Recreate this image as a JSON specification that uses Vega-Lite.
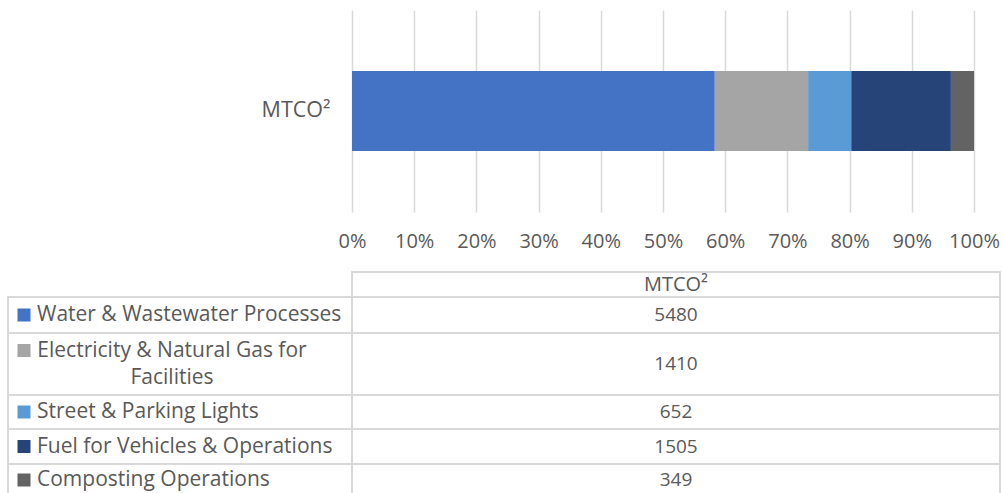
{
  "$schema": "https://vega.github.io/schema/vega-lite/v6.json",
  "padding": {"left": 7, "top": 10, "right": 0, "bottom": 0},
  "datasets": {
    "emissions": [
      {"source": "Water & Wastewater Processes", "mtco2": 5480},
      {"source": "Electricity & Natural Gas for\nFacilities", "mtco2": 1410},
      {"source": "Street & Parking Lights", "mtco2": 652},
      {"source": "Fuel for Vehicles & Operations", "mtco2": 1505},
      {"source": "Composting Operations", "mtco2": 349}
    ],
    "header": [{"measure": "MTCO²"}]
  },
  "columns": 2,
  "spacing": 0,
  "bounds": "flush",
  "align": "each",
  "concat": [
    {
      "width": 1, "height": 202, "view": {"stroke": null},
      "data": {"name": "header"},
      "mark": {"type": "text"},
      "encoding": {"text": {"value": ""}}
    },
    {
      "width": 622, "height": 202, "view": {"stroke": null},
      "data": {"name": "emissions"},
      "transform": [{"window": [{"op": "row_number", "as": "tableRow"}]}],
      "mark": {"type": "bar", "size": 80},
      "encoding": {
        "y": {
          "datum": "MTCO²", "type": "nominal",
          "axis": {"title": null, "ticks": false, "domain": false, "grid": false, "labelPadding": 22, "labelFontSize": 21.5}
        },
        "x": {
          "field": "mtco2", "type": "quantitative", "stack": "normalize",
          "scale": {"domain": [0, 1]},
          "axis": {
            "title": null, "format": ".0%", "values": [0, 0.1, 0.2, 0.3, 0.4, 0.5, 0.6, 0.7, 0.8, 0.9, 1],
            "ticks": false, "domain": false, "grid": true, "gridColor": "#d9d9d9", "gridWidth": 1.5,
            "labelPadding": 19, "labelFlush": false, "labelOverlap": false
          }
        },
        "order": {"field": "tableRow", "type": "quantitative", "sort": "ascending"},
        "color": {
          "field": "source", "type": "nominal", "legend": null,
          "scale": {
            "domain": ["Water & Wastewater Processes", "Electricity & Natural Gas for\nFacilities", "Street & Parking Lights", "Fuel for Vehicles & Operations", "Composting Operations"],
            "range": ["#4472c4", "#a5a5a5", "#5b9bd5", "#264478", "#636363"]
          }
        }
      }
    },
    {
      "width": 1, "height": 60, "view": {"stroke": null},
      "data": {"name": "header"},
      "mark": {"type": "text"},
      "encoding": {"text": {"value": ""}}
    },
    {
      "width": 1, "height": 60, "view": {"stroke": null},
      "data": {"name": "header"},
      "mark": {"type": "text"},
      "encoding": {"text": {"value": ""}}
    },
    {
      "width": 1, "height": 25, "view": {"stroke": null},
      "data": {"name": "header"},
      "mark": {"type": "text"},
      "encoding": {"text": {"value": ""}}
    },
    {
      "width": 648, "height": 25, "view": {"stroke": "#d9d9d9", "strokeWidth": 2},
      "data": {"name": "header"},
      "mark": {"type": "text", "fontSize": 20},
      "encoding": {"text": {"field": "measure", "type": "nominal"}}
    },

    {
      "width": 344, "height": 36, "view": {"stroke": "#d9d9d9", "strokeWidth": 2},
      "data": {"name": "emissions"},
      "transform": [{"filter": {"field": "source", "equal": "Water & Wastewater Processes"}}],
      "layer": [
        {
          "mark": {"type": "point", "shape": "square", "filled": true, "size": 169, "opacity": 1, "xOffset": -156},
          "encoding": {"color": {"field": "source", "type": "nominal", "legend": null,
            "scale": {"domain": ["Water & Wastewater Processes", "Electricity & Natural Gas for\nFacilities", "Street & Parking Lights", "Fuel for Vehicles & Operations", "Composting Operations"],
                      "range": ["#4472c4", "#a5a5a5", "#5b9bd5", "#264478", "#636363"]}}}
        },
        {"mark": {"type": "text", "align": "left", "dx": -143}, "encoding": {"text": {"field": "source", "type": "nominal"}}}
      ]
    },
    {
      "width": 648, "height": 36, "view": {"stroke": "#d9d9d9", "strokeWidth": 2},
      "data": {"name": "emissions"},
      "transform": [{"filter": {"field": "source", "equal": "Water & Wastewater Processes"}}],
      "mark": {"type": "text", "fontSize": 19},
      "encoding": {"text": {"field": "mtco2", "type": "quantitative", "format": "d"}}
    },

    {
      "width": 344, "height": 62, "view": {"stroke": "#d9d9d9", "strokeWidth": 2},
      "data": {"name": "emissions"},
      "transform": [{"filter": {"field": "source", "equal": "Electricity & Natural Gas for\nFacilities"}}],
      "layer": [
        {
          "mark": {"type": "point", "shape": "square", "filled": true, "size": 169, "opacity": 1, "xOffset": -156, "yOffset": -13.5},
          "encoding": {"color": {"field": "source", "type": "nominal", "legend": null,
            "scale": {"domain": ["Water & Wastewater Processes", "Electricity & Natural Gas for\nFacilities", "Street & Parking Lights", "Fuel for Vehicles & Operations", "Composting Operations"],
                      "range": ["#4472c4", "#a5a5a5", "#5b9bd5", "#264478", "#636363"]}}}
        },
        {"mark": {"type": "text", "align": "center", "dx": -8, "dy": -13.5}, "encoding": {"text": {"field": "source", "type": "nominal"}}}
      ]
    },
    {
      "width": 648, "height": 62, "view": {"stroke": "#d9d9d9", "strokeWidth": 2},
      "data": {"name": "emissions"},
      "transform": [{"filter": {"field": "source", "equal": "Electricity & Natural Gas for\nFacilities"}}],
      "mark": {"type": "text", "fontSize": 19},
      "encoding": {"text": {"field": "mtco2", "type": "quantitative", "format": "d"}}
    },

    {
      "width": 344, "height": 34, "view": {"stroke": "#d9d9d9", "strokeWidth": 2},
      "data": {"name": "emissions"},
      "transform": [{"filter": {"field": "source", "equal": "Street & Parking Lights"}}],
      "layer": [
        {
          "mark": {"type": "point", "shape": "square", "filled": true, "size": 169, "opacity": 1, "xOffset": -156},
          "encoding": {"color": {"field": "source", "type": "nominal", "legend": null,
            "scale": {"domain": ["Water & Wastewater Processes", "Electricity & Natural Gas for\nFacilities", "Street & Parking Lights", "Fuel for Vehicles & Operations", "Composting Operations"],
                      "range": ["#4472c4", "#a5a5a5", "#5b9bd5", "#264478", "#636363"]}}}
        },
        {"mark": {"type": "text", "align": "left", "dx": -143}, "encoding": {"text": {"field": "source", "type": "nominal"}}}
      ]
    },
    {
      "width": 648, "height": 34, "view": {"stroke": "#d9d9d9", "strokeWidth": 2},
      "data": {"name": "emissions"},
      "transform": [{"filter": {"field": "source", "equal": "Street & Parking Lights"}}],
      "mark": {"type": "text", "fontSize": 19},
      "encoding": {"text": {"field": "mtco2", "type": "quantitative", "format": "d"}}
    },

    {
      "width": 344, "height": 35, "view": {"stroke": "#d9d9d9", "strokeWidth": 2},
      "data": {"name": "emissions"},
      "transform": [{"filter": {"field": "source", "equal": "Fuel for Vehicles & Operations"}}],
      "layer": [
        {
          "mark": {"type": "point", "shape": "square", "filled": true, "size": 169, "opacity": 1, "xOffset": -156},
          "encoding": {"color": {"field": "source", "type": "nominal", "legend": null,
            "scale": {"domain": ["Water & Wastewater Processes", "Electricity & Natural Gas for\nFacilities", "Street & Parking Lights", "Fuel for Vehicles & Operations", "Composting Operations"],
                      "range": ["#4472c4", "#a5a5a5", "#5b9bd5", "#264478", "#636363"]}}}
        },
        {"mark": {"type": "text", "align": "left", "dx": -143}, "encoding": {"text": {"field": "source", "type": "nominal"}}}
      ]
    },
    {
      "width": 648, "height": 35, "view": {"stroke": "#d9d9d9", "strokeWidth": 2},
      "data": {"name": "emissions"},
      "transform": [{"filter": {"field": "source", "equal": "Fuel for Vehicles & Operations"}}],
      "mark": {"type": "text", "fontSize": 19},
      "encoding": {"text": {"field": "mtco2", "type": "quantitative", "format": "d"}}
    },

    {
      "width": 344, "height": 32, "view": {"stroke": "#d9d9d9", "strokeWidth": 2},
      "data": {"name": "emissions"},
      "transform": [{"filter": {"field": "source", "equal": "Composting Operations"}}],
      "layer": [
        {
          "mark": {"type": "point", "shape": "square", "filled": true, "size": 169, "opacity": 1, "xOffset": -156},
          "encoding": {"color": {"field": "source", "type": "nominal", "legend": null,
            "scale": {"domain": ["Water & Wastewater Processes", "Electricity & Natural Gas for\nFacilities", "Street & Parking Lights", "Fuel for Vehicles & Operations", "Composting Operations"],
                      "range": ["#4472c4", "#a5a5a5", "#5b9bd5", "#264478", "#636363"]}}}
        },
        {"mark": {"type": "text", "align": "left", "dx": -143}, "encoding": {"text": {"field": "source", "type": "nominal"}}}
      ]
    },
    {
      "width": 648, "height": 32, "view": {"stroke": "#d9d9d9", "strokeWidth": 2},
      "data": {"name": "emissions"},
      "transform": [{"filter": {"field": "source", "equal": "Composting Operations"}}],
      "mark": {"type": "text", "fontSize": 19},
      "encoding": {"text": {"field": "mtco2", "type": "quantitative", "format": "d"}}
    }
  ],
  "config": {
    "font": "Open Sans",
    "text": {"fontSize": 21, "color": "#595959", "lineBreak": "\n", "lineHeight": 27, "baseline": "middle"},
    "axis": {"labelFont": "Open Sans", "labelFontSize": 20, "labelColor": "#595959"}
  }
}
